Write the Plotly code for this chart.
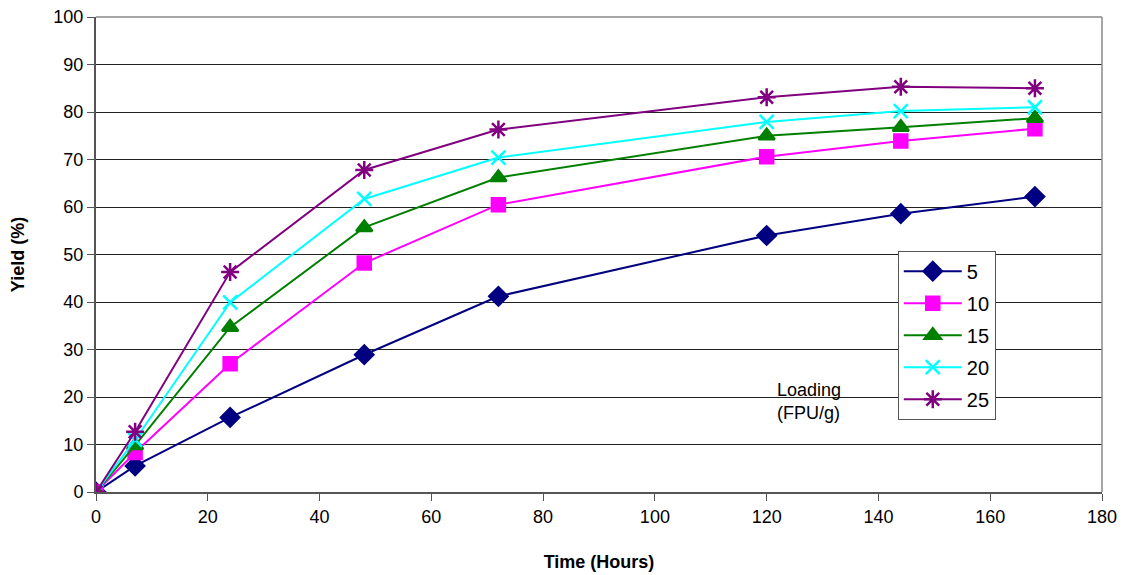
import plotly.graph_objects as go

time_h = [0, 7, 24, 48, 72, 120, 144, 168]
loading_labels = ["5", "10", "15", "20", "25"]
y_5 = [0, 5.5, 15.7, 28.9, 41.2, 54.0, 58.6, 62.2]
y_10 = [0, 8.3, 27.0, 48.2, 60.5, 70.6, 73.9, 76.5]
y_15 = [0, 9.8, 34.7, 55.7, 66.2, 75.0, 76.8, 78.7]
y_20 = [0, 11.0, 39.9, 61.7, 70.4, 77.9, 80.2, 81.0]
y_25 = [0, 12.7, 46.3, 67.8, 76.3, 83.1, 85.3, 85.0]

series = [y_5, y_10, y_15, y_20, y_25]
colors = ["#000080", "#FF00FF", "#008000", "#00FFFF", "#800080"]
symbols = ["diamond", "square", "triangle-up", "x-thin-open", "asterisk-open"]
sizes = [14, 13, 14, 14, 15]

fig = go.Figure()
for lab, ys, c, s, sz in zip(loading_labels, series, colors, symbols, sizes):
    fig.add_trace(go.Scatter(
        x=time_h, y=ys, name=lab, mode="lines+markers", legendgroup=lab,
        line=dict(color=c, width=2),
        marker=dict(symbol=s, size=sz, color=c, line=dict(color=c, width=2.5)),
    ))

font_family = "Liberation Sans, Arial, sans-serif"
# page body has an 8px default margin; compensate so the plot lands where the reference has it
fig.update_layout(
    width=1119, height=567,
    margin=dict(l=88, r=25, t=9, b=83, autoexpand=False),
    paper_bgcolor="white", plot_bgcolor="white",
    font=dict(family=font_family, size=18, color="black"),
    showlegend=True,
    legend=dict(
        x=0.797, y=0.508, xanchor="left", yanchor="top",
        bgcolor="white", bordercolor="#555555", borderwidth=1,
        font=dict(size=20), itemwidth=58, tracegroupgap=3,
    ),
    xaxis=dict(
        range=[0, 180], tickvals=list(range(0, 181, 20)), automargin=False,
        showgrid=False, zeroline=False,
        showline=True, linecolor="#555555", linewidth=2, mirror=False,
        ticks="outside", ticklen=7, tickcolor="#555555",
        title=dict(text="<b>Time (Hours)</b>", font=dict(size=18), standoff=30),
    ),
    yaxis=dict(
        range=[0, 100], tickvals=list(range(0, 101, 10)), automargin=False,
        ticklabeloverflow="allow",
        showgrid=True, gridcolor="#222222", gridwidth=1, zeroline=False,
        showline=True, linecolor="#555555", linewidth=2,
        ticks="outside", ticklen=7, tickcolor="#555555",
        title=dict(text="<b>Yield (%)</b>", font=dict(size=18), standoff=30),
    ),
    shapes=[
        dict(type="line", xref="paper", yref="paper", x0=0, x1=1, y0=1, y1=1,
             line=dict(color="#888888", width=1.5)),
        dict(type="line", xref="paper", yref="paper", x0=1, x1=1, y0=0, y1=1,
             line=dict(color="#888888", width=1.5)),
    ],
    annotations=[
        dict(text="Loading<br>(FPU/g)", x=0.675, y=0.19, xref="paper", yref="paper",
             xanchor="left", yanchor="middle", showarrow=False, align="left",
             font=dict(size=18)),
    ],
)

fig.write_html("out.html")
